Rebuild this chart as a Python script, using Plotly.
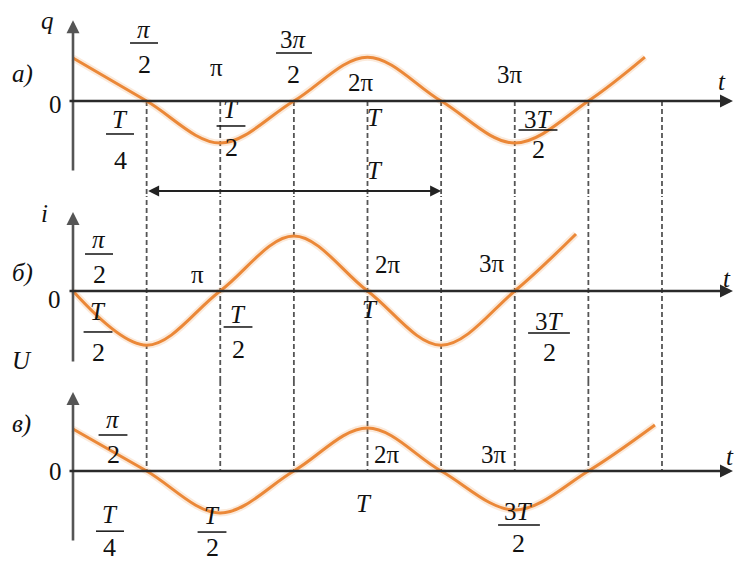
import plotly.graph_objects as go

# ---- data (t in units of the period T, values in relative amplitude units) ----
t_q = [0, 0.25, 0.5, 0.75, 1.0, 1.25, 1.5, 1.75, 1.942]
q_vals = [1.0, 0, -0.977, 0, 1.02, 0, -0.977, 0, 1.02]

t_i = [0, 0.25, 0.5, 0.75, 1.0, 1.25, 1.5, 1.708]
i_vals = [0, -1.26, 0, 1.28, 0, -1.26, 0, 1.326]

t_u = [0, 0.25, 0.5, 0.75, 1.0, 1.25, 1.5, 1.75, 1.976]
u_vals = [0.977, 0, -0.977, 0, 1.0, 0, -0.907, 0, 1.07]

dash_t = [0.25, 0.5, 0.75, 1.0, 1.25, 1.5, 1.75, 2.0]

# simple text labels: (axis, text, t, value)
labels = [
    ('y', '<i>q</i>', -0.0883, 1.884),
    ('y', '<i>а)</i>', -0.1732, 0.628),
    ('y', '0', -0.0611, -0.070),
    ('y', 'π', 0.4856, 0.791),
    ('y', '2π', 0.9779, 0.442),
    ('y', '3π', 1.4839, 0.628),
    ('y', '<i>t</i>', 2.2037, 0.465),
    ('y', '<i>T</i>', 1.0255, -0.372),
    ('y', '<i>T</i>', 1.0255, -1.605),
    ('y2', '<i>i</i>', -0.0985, 1.791),
    ('y2', '<i>б)</i>', -0.1732, 0.419),
    ('y2', '0', -0.0628, -0.209),
    ('y2', 'π', 0.4244, 0.372),
    ('y2', '<i>T</i>', 1.0085, -0.442),
    ('y2', '2π', 1.0696, 0.605),
    ('y2', '3π', 1.4228, 0.628),
    ('y2', '<i>t</i>', 2.2207, 0.279),
    ('y2', '<i>U</i>', -0.1732, -1.605),
    ('y3', '<i>в)</i>', -0.1766, 1.093),
    ('y3', '0', -0.0611, -0.023),
    ('y3', '<i>T</i>', 0.9881, -0.767),
    ('y3', '2π', 1.0662, 0.372),
    ('y3', '3π', 1.4295, 0.395),
    ('y3', '<i>t</i>', 2.2309, 0.326),
]

# fractions: (axis, numerator, denominator, t, v_num, v_bar, v_den, half_width)
fractions = [
    ('y', '<i>π</i>', '2', 0.2411, 1.674, 1.349, 0.860, 0.0475),
    ('y', '3<i>π</i>', '2', 0.7504, 1.442, 1.116, 0.628, 0.061),
    ('y', '<i>T</i>', '4', 0.1596, -0.419, -0.767, -1.395, 0.0475),
    ('y', '<i>T</i>', '2', 0.5365, -0.186, -0.581, -1.070, 0.049),
    ('y', '3<i>T</i>', '2', 1.579, -0.419, -0.674, -1.116, 0.066),
    ('y2', '<i>π</i>', '2', 0.0883, 1.186, 0.860, 0.372, 0.0475),
    ('y2', '<i>T</i>', '2', 0.0849, -0.488, -0.953, -1.419, 0.049),
    ('y2', '<i>T</i>', '2', 0.5603, -0.558, -0.837, -1.372, 0.049),
    ('y2', '3<i>T</i>', '2', 1.6163, -0.721, -0.977, -1.419, 0.071),
    ('y3', '<i>π</i>', '2', 0.1358, 1.186, 0.837, 0.372, 0.049),
    ('y3', '<i>T</i>', '4', 0.1256, -1.02, -1.40, -1.79, 0.0475),
    ('y3', '<i>T</i>', '2', 0.472, -1.04, -1.42, -1.79, 0.049),
    ('y3', '3<i>T</i>', '2', 1.5144, -0.953, -1.256, -1.698, 0.071),
]

# axis extents: (axis, bottom, top)
v_axes = [('y', -1.65, 1.88), ('y2', -1.674, 1.837), ('y3', -1.651, 1.837)]
x_axis_start, x_axis_end = -0.017, 2.241

# ---- layout geometry ----
x_range = [-0.2479, 2.2547]
ranges = {'y': [-2.209, 2.349], 'y2': [-2.093, 2.209], 'y3': [-2.140, 2.093]}
domains = {'y': [0.65187, 1.0], 'y2': [0.32327, 0.65187], 'y3': [0.0, 0.32327]}

ORANGE = '#EB8838'
FONT = '"Liberation Serif", "Times New Roman", "DejaVu Serif", serif'
FS = 25

fig = go.Figure()

for ax, tt, vv in [('y', t_q, q_vals), ('y2', t_i, i_vals), ('y3', t_u, u_vals)]:
    fig.add_trace(go.Scatter(x=tt, y=vv, xaxis='x', yaxis=ax, mode='lines',
                             line=dict(color=ORANGE, width=7, shape='spline'),
                             opacity=0.18, hoverinfo='skip', showlegend=False))
    fig.add_trace(go.Scatter(x=tt, y=vv, xaxis='x', yaxis=ax, mode='lines',
                             line=dict(color=ORANGE, width=3, shape='spline'),
                             hoverinfo='skip', showlegend=False))

shapes = []
DASH = dict(color='#555555', width=1.8, dash='5px,3px')
for t in dash_t:
    shapes.append(dict(type='line', xref='x', yref='y', x0=t, x1=t,
                       y0=0, y1=ranges['y'][0], line=DASH, layer='below'))
    shapes.append(dict(type='line', xref='x', yref='y2 domain', x0=t, x1=t,
                       y0=0, y1=1, line=DASH, layer='below'))
    shapes.append(dict(type='line', xref='x', yref='y3', x0=t, x1=t,
                       y0=ranges['y3'][1], y1=0, line=DASH, layer='below'))

for ax, num, den, t, vn, vb, vd, hw in fractions:
    shapes.append(dict(type='line', xref='x', yref=ax, x0=t - hw, x1=t + hw,
                       y0=vb, y1=vb, line=dict(color='#111', width=1.5)))

annotations = []
for ax, txt, t, v in labels:
    annotations.append(dict(x=t, y=v, xref='x', yref=ax, text=txt, showarrow=False,
                            xanchor='center', yanchor='middle',
                            font=dict(family=FONT, size=FS, color='#111')))
for ax, num, den, t, vn, vb, vd, hw in fractions:
    annotations.append(dict(x=t, y=vn, xref='x', yref=ax, text=num, showarrow=False,
                            xanchor='center', yanchor='middle',
                            font=dict(family=FONT, size=FS, color='#111')))
    annotations.append(dict(x=t, y=vd, xref='x', yref=ax, text=den, showarrow=False,
                            xanchor='center', yanchor='middle',
                            font=dict(family=FONT, size=FS + 1, color='#111')))

# axes with arrowheads
for ax, vb, vt in v_axes:
    annotations.append(dict(x=0, y=vt, ax=0, ay=vb, xref='x', yref=ax, axref='x', ayref=ax,
                            text='', showarrow=True, arrowhead=2, arrowsize=1.0,
                            arrowwidth=2.6, arrowcolor='#555555', standoff=0, startstandoff=0))
    annotations.append(dict(x=x_axis_end, y=0, ax=x_axis_start, ay=0, xref='x', yref=ax,
                            axref='x', ayref=ax, text='', showarrow=True, arrowhead=2,
                            arrowsize=1.0, arrowwidth=2.6, arrowcolor='#2a2a2a',
                            standoff=0, startstandoff=0))

# period arrow T (between first and fifth dashed line)
annotations.append(dict(x=dash_t[4], y=-2.093, ax=dash_t[0], ay=-2.093, xref='x', yref='y',
                        axref='x', ayref='y', text='', showarrow=True, arrowhead=2,
                        arrowside='end+start', arrowsize=1.1, arrowwidth=2.0,
                        arrowcolor='#222', standoff=0, startstandoff=0))

hidden = dict(visible=False, showgrid=False, zeroline=False, fixedrange=True)
fig.update_layout(
    width=737, height=563,
    margin=dict(l=0, r=0, t=0, b=0),
    paper_bgcolor='white', plot_bgcolor='white',
    xaxis=dict(range=x_range, domain=[0, 1], anchor='y', **hidden),
    yaxis=dict(range=ranges['y'], domain=domains['y'], anchor='x', **hidden),
    yaxis2=dict(range=ranges['y2'], domain=domains['y2'], anchor='x', **hidden),
    yaxis3=dict(range=ranges['y3'], domain=domains['y3'], anchor='x', **hidden),
    shapes=shapes, annotations=annotations, showlegend=False,
)

fig.write_html('out.html', config={'staticPlot': True},
               post_script="document.body.style.margin='0';document.body.style.overflow='hidden';")
